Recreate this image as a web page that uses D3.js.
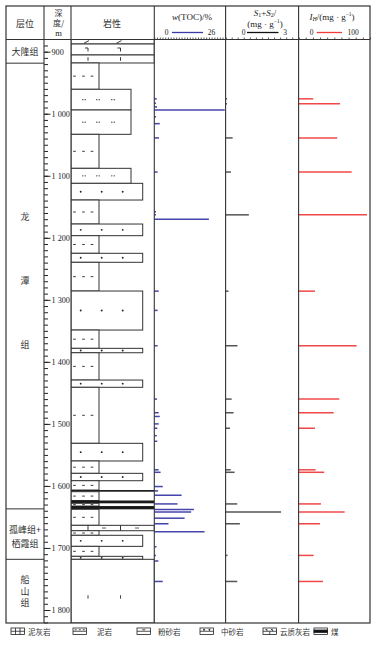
<!DOCTYPE html>
<html>
<head>
<meta charset="utf-8">
<script src="https://cdn.jsdelivr.net/npm/d3@7"></script>
<style>
  body { margin: 0; background: #fff; }
  text { font-family: "Liberation Serif", "Noto Sans CJK SC", serif; fill: #222; }
  .cjk { font-family: "Noto Sans CJK SC", sans-serif; fill: #333; }
</style>
</head>
<body>
<svg id="chart" width="376" height="645"></svg>
<script>
// depth labels (m)
const depthLabels = [900, 1000, 1100, 1200, 1300, 1400, 1500, 1600, 1700, 1800];

// formations: name and top depth
const formationNames = ["大隆组", "龙潭组", "孤峰组+栖霞组", "船山组"];
const formationTops = [880, 918.5, 1637, 1718.3];

// lithology intervals: top depth and rock type (bottom = next top)
const litTops = [880, 887.6, 905.3, 918.2, 960.6, 994.0, 1033.2, 1088.0, 1112.2, 1139.1,
  1177.8, 1196.6, 1225.0, 1239.5, 1285.8, 1348.7, 1378.2, 1385.3, 1429.3, 1441.0,
  1531.3, 1559.8, 1579.7, 1591.6, 1606.6, 1609.3, 1623.5, 1628.0, 1632.4, 1637.7,
  1663.5, 1672.2, 1679.6, 1697.4, 1713.5, 1718.3];
const litTypes = ["云质灰岩", "云质灰岩", "云质灰岩", "泥岩", "粉砂岩", "粉砂岩", "泥岩", "粉砂岩", "中砂岩", "泥岩",
  "中砂岩", "泥岩", "中砂岩", "泥岩", "中砂岩", "泥岩", "中砂岩", "泥岩", "中砂岩", "泥岩",
  "中砂岩", "泥岩", "中砂岩", "泥岩", "煤", "泥岩", "煤", "泥岩", "煤", "泥岩",
  "泥灰岩", "泥岩", "中砂岩", "泥岩", "中砂岩", "灰岩"];

// geochemistry samples: [depth m, value]
const tocSamples = [[976, 0.9], [983, 0.6], [989, 1.0], [994, 25.8], [1005, 0.6], [1016, 2.0],
  [1039, 1.7], [1094, 1.2], [1158, 0.6], [1163, 0.6], [1170, 20.0], [1286, 1.6], [1317, 1.2],
  [1374, 1.2], [1460, 1.0], [1482, 1.6], [1488, 2.0], [1500, 1.6], [1507, 1.1], [1519, 0.9],
  [1528, 1.1], [1574, 1.6], [1578, 2.3], [1601, 3.1], [1608, 1.4], [1615, 10.0], [1629, 8.5],
  [1638, 14.5], [1642, 13.5], [1652, 11.1], [1661, 5.2], [1674, 18.4], [1698, 0.8], [1712, 0.6],
  [1721, 1.5], [1754, 3.1]];
const s1s2Samples = [[976, 0.06], [984, 0.06], [1039, 0.29], [1094, 0.22], [1163, 0.96],
  [1286, 0.12], [1374, 0.49], [1460, 0.25], [1482, 0.33], [1507, 0.18], [1574, 0.21],
  [1578, 0.37], [1629, 0.48], [1642, 2.29], [1661, 0.59], [1712, 0.08], [1754, 0.48]];
const ihSamples = [[976, 20.5], [984, 57.9], [1039, 54.1], [1094, 74.3], [1163, 95.8],
  [1286, 22.9], [1374, 81.3], [1460, 56.9], [1482, 49.1], [1507, 22.9], [1574, 23.8],
  [1578, 35.9], [1629, 31.3], [1642, 64.5], [1661, 29.9], [1712, 21.0], [1754, 34.1]];

const legendNames = ["泥灰岩", "泥岩", "粉砂岩", "中砂岩", "云质灰岩", "煤"];

const depthMin = 880, depthMax = 1821;

const svg = d3.select("#chart");
const colX = [6, 44, 71, 154.3, 225.6, 298.6, 370];
const frameTop = 6, headBottom = 39.5, frameBottom = 623;

const y = d3.scaleLinear().domain([900, 1800]).range([51.7, 610]);
const xToc = d3.scaleLinear().domain([0, 26]).range([colX[3], 225.3]);
const xS = d3.scaleLinear().domain([0, 3]).range([colX[4], 298.3]);
const xIh = d3.scaleLinear().domain([0, 100]).range([colX[5], colX[6]]);

// ---- lithology column
svg.append("clipPath").attr("id", "litClip")
  .append("rect").attr("x", colX[2]).attr("y", headBottom)
  .attr("width", colX[3] - colX[2]).attr("height", frameBottom - headBottom);
const lith = svg.append("g").attr("clip-path", "url(#litClip)");
const litRight = { "泥岩": 99, "粉砂岩": 131, "中砂岩": 142.7 };
const markX = [88, 120.5];
let dolRow = 0;

litTypes.forEach((t, i) => {
  const y0 = y(litTops[i]);
  const y1 = y(i + 1 < litTops.length ? litTops[i + 1] : depthMax);
  const x0 = colX[2], x1 = litRight[t] || colX[3];
  const ym = (y0 + y1) / 2;
  if (t === "煤") {
    lith.append("rect").attr("x", x0).attr("y", y0).attr("width", x1 - x0).attr("height", y1 - y0)
      .attr("fill", "#1a1a1a");
    return;
  }
  lith.append("rect").attr("x", x0).attr("y", y0).attr("width", x1 - x0).attr("height", y1 - y0)
    .attr("fill", "#fff").attr("stroke", "#333").attr("stroke-width", 1);
  if (t === "泥岩") {
    [74.5, 83.5, 92].forEach(cx => lith.append("line").attr("x1", cx - 1.3).attr("x2", cx + 1.3)
      .attr("y1", ym).attr("y2", ym).attr("stroke", "#222").attr("stroke-width", 0.9));
  } else if (t === "粉砂岩") {
    [84, 98, 113].forEach(cx => [-1.2, 1.2].forEach(dx => lith.append("circle")
      .attr("cx", cx + dx).attr("cy", ym).attr("r", 0.65).attr("fill", "#222")));
  } else if (t === "中砂岩") {
    [80.7, 101.7, 122.7].forEach(cx => lith.append("circle")
      .attr("cx", cx).attr("cy", ym).attr("r", 0.95).attr("fill", "#222"));
  } else if (t === "泥灰岩") {
    markX.forEach(cx => lith.append("line").attr("x1", cx).attr("x2", cx).attr("y1", y0).attr("y2", y1)
      .attr("stroke", "#333"));
    [104, 137].forEach(cx => lith.append("line").attr("x1", cx - 2).attr("x2", cx + 2)
      .attr("y1", ym).attr("y2", ym).attr("stroke", "#333").attr("stroke-width", 0.8));
  } else if (t === "云质灰岩") {
    const kind = dolRow++ % 3;
    markX.forEach(cx => {
      let p;
      if (kind === 0) p = `M${cx - 4},${ym + 1.5}L${cx + 1},${ym - 1}`;
      else if (kind === 1) p = `M${cx - 3},${ym - 1.5}H${cx}V${ym + 2}`;
      else p = `M${cx},${ym - 1.8}V${ym + 1.8}`;
      lith.append("path").attr("d", p).attr("fill", "none").attr("stroke", "#222").attr("stroke-width", 0.9);
    });
  } else if (t === "灰岩") {
    markX.forEach(cx => lith.append("line").attr("x1", cx).attr("x2", cx)
      .attr("y1", ym + 4).attr("y2", ym + 7.5).attr("stroke", "#333").attr("stroke-width", 0.9));
  }
});

// ---- formation column
formationTops.slice(1).forEach(d => {
  svg.append("line").attr("x1", colX[0]).attr("x2", colX[1]).attr("y1", y(d)).attr("y2", y(d))
    .attr("stroke", "#333");
});
const layerText = svg.append("g").attr("font-size", 9)
  .attr("text-anchor", "middle").attr("dominant-baseline", "central");
const fx = (colX[0] + colX[1]) / 2;
layerText.append("text").attr("class", "cjk").attr("x", fx).attr("y", y(900)).text(formationNames[0]);
[...formationNames[1]].forEach((ch, k) =>
  layerText.append("text").attr("class", "cjk").attr("x", fx).attr("y", y(1166 + k * 103)).text(ch));
formationNames[2].split(/(?<=\+)/).forEach((s, k) =>
  layerText.append("text").attr("class", "cjk").attr("x", fx).attr("y", y(1670) + k * 14).text(s));
[...formationNames[3]].forEach((ch, k) =>
  layerText.append("text").attr("class", "cjk").attr("x", fx).attr("y", y(1751) + k * 11.5).text(ch));

// ---- depth axis
const fmt = d => d >= 1000 ? String(d).replace(/^(\d)(\d{3})$/, "$1 $2") : String(d);
svg.append("g").attr("transform", `translate(${colX[1]},0)`)
  .call(d3.axisRight(y).tickValues(d3.range(890, 1821, 10)).tickSize(4).tickFormat(""))
  .call(g => g.select(".domain").remove())
  .call(g => g.selectAll("line").attr("stroke", "#222"));
svg.append("g").attr("transform", `translate(${colX[1]},0)`)
  .call(d3.axisRight(y).tickValues(depthLabels).tickSize(6.5).tickPadding(1).tickFormat(fmt))
  .call(g => g.select(".domain").remove())
  .call(g => g.selectAll("line").attr("stroke", "#222"))
  .call(g => g.selectAll("text").attr("font-family", "Liberation Serif").attr("font-size", 8.2).attr("fill", "#222"));

// ---- bars
const bars = (data, x, color) => svg.append("g").selectAll("line").data(data).join("line")
  .attr("x1", x(0)).attr("x2", d => x(d[1]))
  .attr("y1", d => y(d[0])).attr("y2", d => y(d[0]))
  .attr("stroke", color).attr("stroke-width", 1.5);
bars(tocSamples, xToc, "#4444aa");
bars(s1s2Samples, xS, "#555");
bars(ihSamples, xIh, "#f04848");

// ---- header scale ticks
[[xToc, d3.range(0, 26.01, 1)], [xS, d3.range(0, 3.01, 0.25)], [xIh, d3.range(0, 100.1, 10)]].forEach(([sc, tv]) => {
  svg.append("g").attr("transform", `translate(0,${headBottom})`)
    .call(d3.axisTop(sc).tickValues(tv).tickSize(2).tickFormat(""))
    .call(g => g.select(".domain").remove())
    .call(g => g.selectAll("line").attr("stroke", "#333").attr("stroke-width", 0.8));
});

// ---- frame
svg.append("rect").attr("x", colX[0]).attr("y", frameTop).attr("width", colX[6] - colX[0])
  .attr("height", frameBottom - frameTop).attr("fill", "none").attr("stroke", "#333").attr("stroke-width", 1.2);
colX.slice(1, 6).forEach(x => svg.append("line").attr("x1", x).attr("x2", x)
  .attr("y1", frameTop).attr("y2", frameBottom).attr("stroke", "#333").attr("stroke-width", 1.1));
svg.append("line").attr("x1", colX[0]).attr("x2", colX[6]).attr("y1", headBottom).attr("y2", headBottom)
  .attr("stroke", "#333").attr("stroke-width", 1.1);

// ---- header text
const head = svg.append("g").attr("text-anchor", "middle").attr("dominant-baseline", "central");
head.append("text").attr("class", "cjk").attr("font-size", 9).attr("x", 25).attr("y", 23).text("层位");
[["深", 12.5], ["度/", 22.5]].forEach(([s, yy]) =>
  head.append("text").attr("class", "cjk").attr("font-size", 8).attr("x", 58.5).attr("y", yy).text(s));
head.append("text").attr("font-size", 8.5).attr("x", 58.5).attr("y", 32.5).text("m");
head.append("text").attr("class", "cjk").attr("font-size", 9).attr("x", 112).attr("y", 23).text("岩性");

const tTitle = head.append("text").attr("font-size", 9).attr("x", 192).attr("y", 16.5);
tTitle.append("tspan").attr("font-style", "italic").text("w");
tTitle.append("tspan").text("(TOC)/%");

const sTitle = head.append("text").attr("font-size", 9).attr("x", 265).attr("y", 12.5);
sTitle.append("tspan").attr("font-style", "italic").text("S");
sTitle.append("tspan").attr("font-size", 6).attr("dy", 2).text("1");
sTitle.append("tspan").attr("dy", -2).text("+");
sTitle.append("tspan").attr("font-style", "italic").text("S");
sTitle.append("tspan").attr("font-size", 6).attr("dy", 2).text("2");
sTitle.append("tspan").attr("dy", -2).text("/");
const sUnit = head.append("text").attr("font-size", 9).attr("x", 265).attr("y", 23.5);
sUnit.append("tspan").text("(mg · g");
sUnit.append("tspan").attr("font-size", 5.5).attr("dy", -3).text("−1");
sUnit.append("tspan").attr("dy", 3).text(")");

const iTitle = head.append("text").attr("font-size", 9).attr("x", 332).attr("y", 16.5);
iTitle.append("tspan").attr("font-style", "italic").text("I");
iTitle.append("tspan").attr("font-size", 6).attr("font-style", "italic").attr("dy", 2).text("H");
iTitle.append("tspan").attr("dy", -2).text("/(mg · g");
iTitle.append("tspan").attr("font-size", 5.5).attr("dy", -3).text("−1");
iTitle.append("tspan").attr("dy", 3).text(")");

// header legend keys
[[166.7, 172, 203, 211.5, "26", "#3a3aa8"], [243.5, 247, 278.5, 285, "3", "#111"],
 [311.7, 316.7, 342, 353, "100", "#f03c3c"]].forEach(([lx, a, b, rx, rt, c]) => {
  head.append("text").attr("font-size", 7.5).attr("x", lx).attr("y", 32.5).text("0");
  head.append("text").attr("font-size", 7.5).attr("x", rx).attr("y", 32.5).text(rt);
  svg.append("line").attr("x1", a).attr("x2", b).attr("y1", 32.5).attr("y2", 32.5)
    .attr("stroke", c).attr("stroke-width", 1.3);
});

// ---- bottom legend
const symX = [11, 73, 137, 200, 263, 314];
const labX = [28, 97, 158, 221, 280, 331];
const leg = svg.append("g");
legendNames.forEach((name, i) => {
  const sx = symX[i], sy = 628, sw = 13.5, sh = 6.5;
  const g = leg.append("g").attr("stroke", "#222").attr("stroke-width", 0.8).attr("fill", "none");
  g.append("rect").attr("x", sx).attr("y", sy).attr("width", sw).attr("height", sh).attr("fill", "#fff");
  if (name === "泥灰岩") {
    [1 / 3, 2 / 3].forEach(f => g.append("line").attr("x1", sx + sw * f).attr("x2", sx + sw * f).attr("y1", sy).attr("y2", sy + sh));
    g.append("line").attr("x1", sx).attr("x2", sx + sw).attr("y1", sy + sh / 2).attr("y2", sy + sh / 2);
  } else if (name === "泥岩") {
    g.append("line").attr("x1", sx).attr("x2", sx + sw).attr("y1", sy + sh / 2).attr("y2", sy + sh / 2);
    [0.2, 0.5, 0.8].forEach(f => g.append("line").attr("x1", sx + sw * f - 1).attr("x2", sx + sw * f + 1).attr("y1", sy + 1.8).attr("y2", sy + 1.8));
  } else if (name === "粉砂岩") {
    g.append("line").attr("x1", sx).attr("x2", sx + sw).attr("y1", sy + sh / 2).attr("y2", sy + sh / 2);
    g.append("line").attr("x1", sx + sw / 2 - 1.5).attr("x2", sx + sw / 2 + 1.5).attr("y1", sy + 1.8).attr("y2", sy + 1.8);
  } else if (name === "中砂岩") {
    g.append("line").attr("x1", sx).attr("x2", sx + sw).attr("y1", sy + sh / 2).attr("y2", sy + sh / 2);
    [0.3, 0.7].forEach(f => g.append("circle").attr("cx", sx + sw * f).attr("cy", sy + 1.8).attr("r", 0.6).attr("fill", "#222"));
  } else if (name === "云质灰岩") {
    g.append("line").attr("x1", sx).attr("x2", sx + sw).attr("y1", sy + sh / 2).attr("y2", sy + sh / 2);
    [0.3, 0.7].forEach(f => g.append("path").attr("d", `M${sx + sw * f - 1.5},${sy + 1.5}H${sx + sw * f}V${sy + sh / 2}`));
    g.append("line").attr("x1", sx + sw / 2).attr("x2", sx + sw / 2).attr("y1", sy + sh / 2).attr("y2", sy + sh);
  } else if (name === "煤") {
    g.append("rect").attr("x", sx).attr("y", sy + 2).attr("width", sw).attr("height", 2.5).attr("fill", "#111");
  }
  leg.append("text").attr("class", "cjk").attr("font-size", 7.5).attr("x", labX[i]).attr("y", 631.3)
    .attr("dominant-baseline", "central").text(name);
});
</script>
</body>
</html>
